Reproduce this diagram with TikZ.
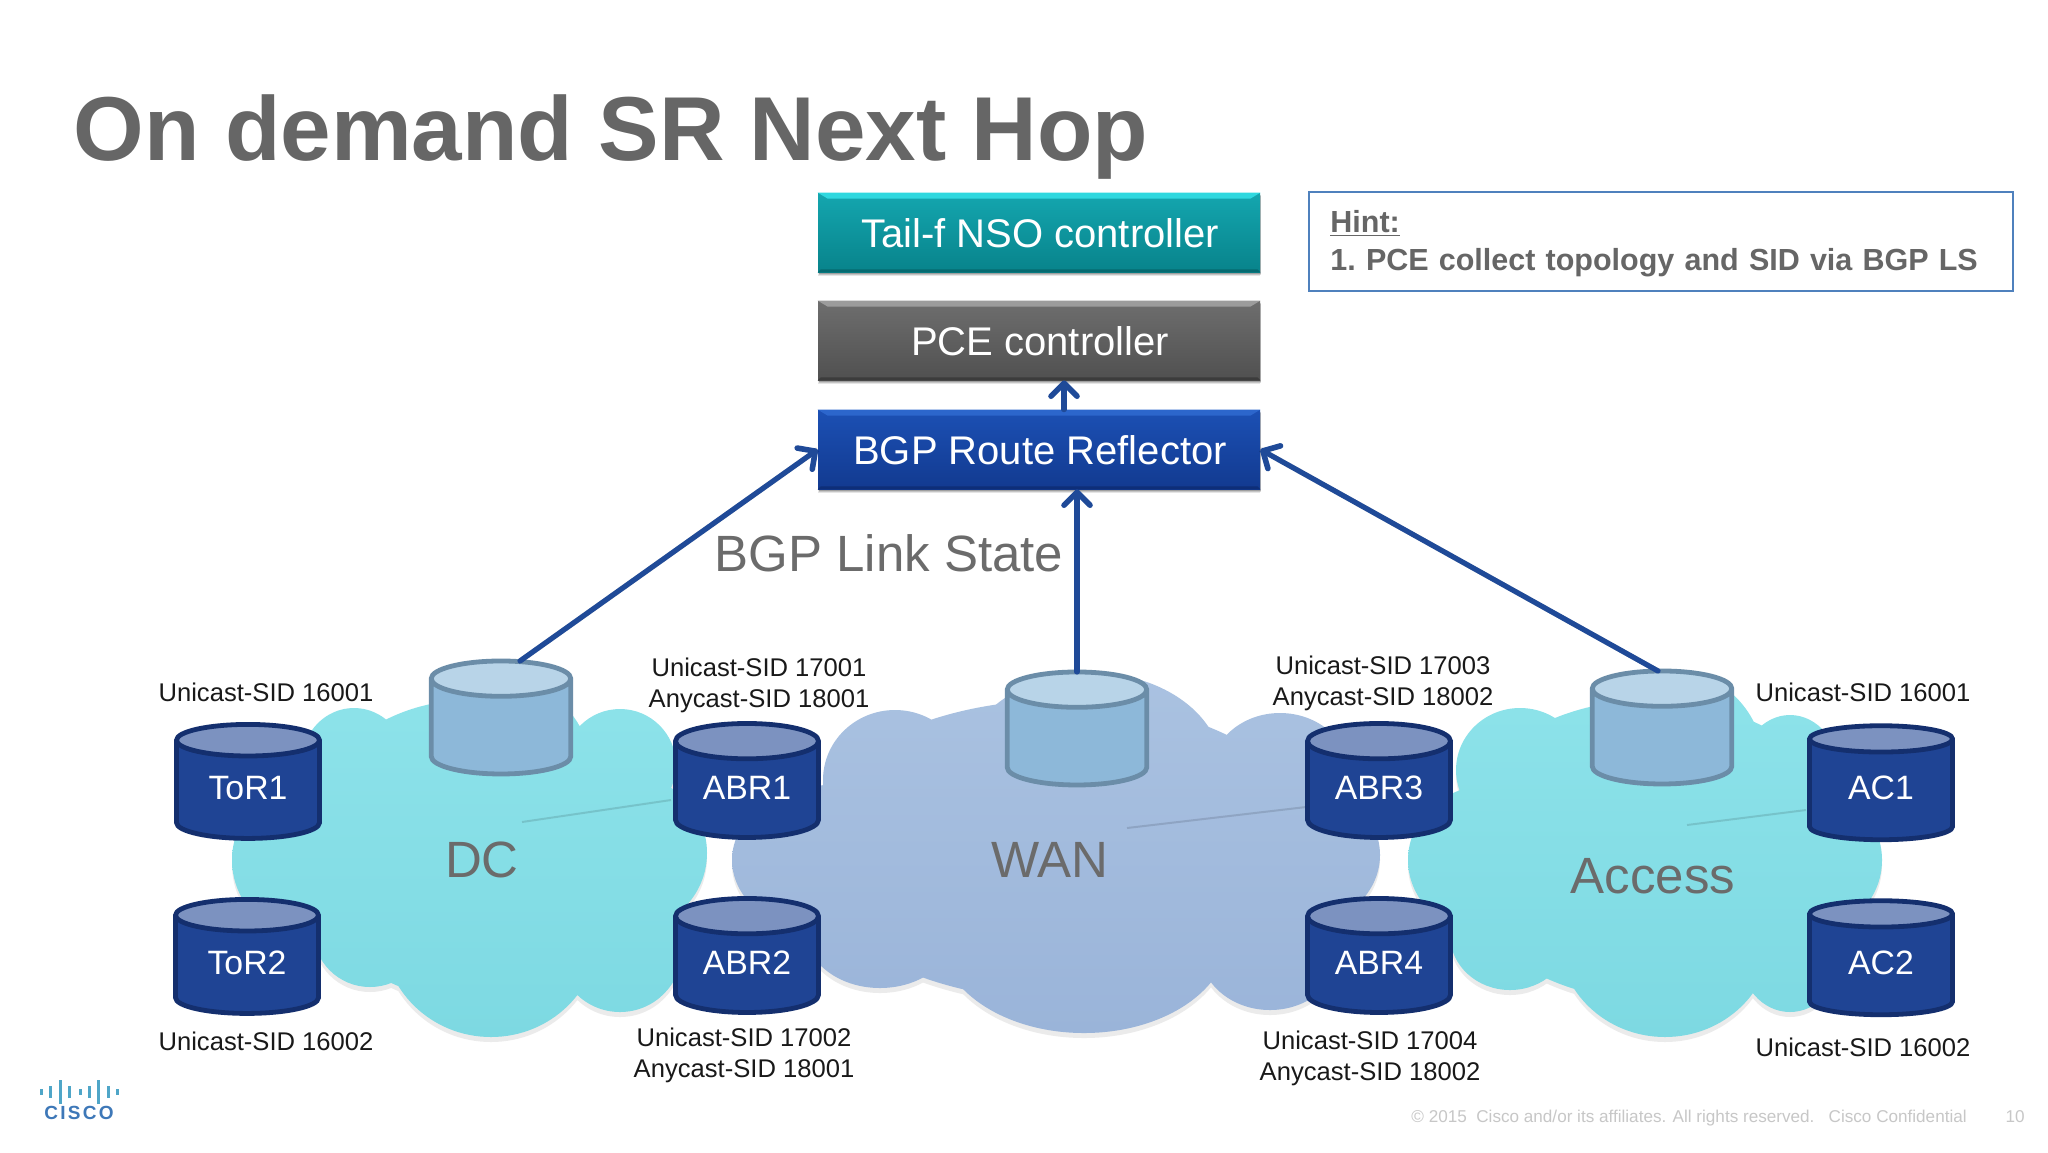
\documentclass[tikz,border=0pt]{standalone}
\usepackage{fontspec}
\setmainfont{Liberation Sans}
\usetikzlibrary{shapes.geometric,arrows.meta,shadows}
\definecolor{titlegray}{HTML}{666666}
\definecolor{labelgray}{HTML}{6B6B6B}
\definecolor{arrowblue}{HTML}{1F4A98}
\definecolor{cyldark}{HTML}{142F6E}
\definecolor{cylbody}{HTML}{1F4494}
\definecolor{cyltop}{HTML}{7C92C0}
\definecolor{lightedge}{HTML}{6B8DA8}
\definecolor{lightbody}{HTML}{8DB8D9}
\definecolor{lighttop}{HTML}{B8D4E8}
\definecolor{dcmain}{HTML}{7DD9E2}
\definecolor{dclight}{HTML}{8EE3EA}
\definecolor{wanmain}{HTML}{9AB4D9}
\definecolor{wanlight}{HTML}{AAC2E1}
\definecolor{hintblue}{HTML}{4F81BD}
\definecolor{nsotop}{HTML}{14A6AF}
\definecolor{nsobot}{HTML}{08838B}
\definecolor{nsohi}{HTML}{2FD8DF}
\definecolor{nsolo}{HTML}{066A70}
\definecolor{pcetop}{HTML}{6E6E6E}
\definecolor{pcebot}{HTML}{505050}
\definecolor{pcehi}{HTML}{9C9C9C}
\definecolor{pcelo}{HTML}{3C3C3C}
\definecolor{bgptop}{HTML}{1C50B4}
\definecolor{bgpbot}{HTML}{123A90}
\definecolor{bgphi}{HTML}{2C66CC}
\definecolor{bgplo}{HTML}{0E2E78}
\definecolor{logobar}{HTML}{4FA6C8}
\definecolor{logotext}{HTML}{3E78B8}
\newcommand{\cyltext}[1]{\raisebox{2.4pt}{#1}}
\tikzset{
  x=0.5pt,y=-0.5pt,
  softshadow/.style={
    drop shadow={shadow xshift=0pt,shadow yshift=-2pt,opacity=.10,fill=black},
    drop shadow={shadow xshift=.5pt,shadow yshift=-1.4pt,opacity=.14,fill=black},
    drop shadow={shadow xshift=.3pt,shadow yshift=-.8pt,opacity=.18,fill=black}},
  ctrl/.style={minimum width=221pt,minimum height=39.5pt,inner sep=0pt,softshadow},
  ctrltext/.style={inner sep=0pt,text=white,font=\fontsize{20}{23}\selectfont},
  dbcyl/.style={cylinder,shape border rotate=90,aspect=.4,minimum width=71.5pt,minimum height=57pt,
    inner sep=0pt,outer sep=0pt,line width=2.4pt,cylinder uses custom fill,draw=cyldark,
    cylinder body fill=cylbody,cylinder end fill=cyltop,text=white,font=\fontsize{16.9}{19}\selectfont},
  lightcyl/.style={cylinder,shape border rotate=90,aspect=.4,minimum width=69.8pt,minimum height=56.5pt,
    inner sep=0pt,outer sep=0pt,line width=2.4pt,cylinder uses custom fill,draw=lightedge,
    cylinder body fill=lightbody,cylinder end fill=lighttop,font=\fontsize{16.9}{19}\selectfont},
  sid/.style={align=center,inner sep=0pt,text=black!90,font=\fontsize{12.8}{15.6}\selectfont},
  cloudlabel/.style={inner sep=0pt,text=labelgray,font=\fontsize{25.5}{30}\selectfont},
  link/.style={draw=arrowblue,line width=2.6pt,line cap=round,
    -{Straight Barb[length=6.5pt,width=13pt,line width=2.8pt,round]}},
  linkshadow/.style={draw=black,opacity=.16,line width=2.6pt,xshift=1pt,yshift=-1.6pt},
  seam/.style={line width=1pt,opacity=.2},
  cloudshadow/.style={fill=black!35,opacity=.22},
  dccloud/.style={top color=dclight,middle color=dcmain,bottom color=dcmain},
  wancloud/.style={top color=wanlight,middle color=wanmain,bottom color=wanmain},
}
\newcommand{\dcshape}{(354,762) ellipse [x radius=52,y radius=54]
  (497,770) ellipse [x radius=94,y radius=92]
  (620,765) ellipse [x radius=56,y radius=56]
  (310,860) ellipse [x radius=78,y radius=78]
  (630,853) ellipse [x radius=77,y radius=77]
  (491,932) ellipse [x radius=108,y radius=105]
  (370,930) ellipse [x radius=57,y radius=57]
  (620,950) ellipse [x radius=62,y radius=62]
  (470,850) ellipse [x radius=170,y radius=150]}
\newcommand{\wanshape}{(895,780) ellipse [x radius=72,y radius=70]
  (1092,770) ellipse [x radius=130,y radius=97]
  (1280,775) ellipse [x radius=70,y radius=62]
  (830,860) ellipse [x radius=98,y radius=75]
  (1290,855) ellipse [x radius=90,y radius=75]
  (1084,935) ellipse [x radius=145,y radius=98]
  (880,930) ellipse [x radius=75,y radius=58]
  (1270,950) ellipse [x radius=70,y radius=60]
  (1060,850) ellipse [x radius=260,y radius=150]}
\newcommand{\accshape}{(1520,770) ellipse [x radius=64,y radius=62]
  (1670,765) ellipse [x radius=94,y radius=95]
  (1790,775) ellipse [x radius=50,y radius=60]
  (1490,860) ellipse [x radius=82,y radius=75]
  (1810,860) ellipse [x radius=72,y radius=72]
  (1665,935) ellipse [x radius=107,y radius=102]
  (1510,935) ellipse [x radius=60,y radius=55]
  (1790,955) ellipse [x radius=50,y radius=57]
  (1650,850) ellipse [x radius=200,y radius=150]}
\begin{document}
\begin{tikzpicture}
\useasboundingbox (0,0) rectangle (2048,1152);
\fill[white] (0,0) rectangle (2048,1152);

% clouds
\fill[cloudshadow,yshift=-2.5pt] \wanshape;
\fill[cloudshadow,yshift=-2.5pt] \dcshape;
\fill[cloudshadow,yshift=-2.5pt] \accshape;
\shade[wancloud] \wanshape;
\shade[dccloud] \dcshape;
\shade[dccloud] \accshape;
\draw[seam,draw=black!60!dcmain] (522,822) -- (671,800);
\draw[seam,draw=black!60!wanmain] (1127,828) -- (1306,807);
\draw[seam,draw=black!60!dcmain] (1687,825) -- (1806,810);

% title
\node[anchor=base west,inner sep=0pt,text=titlegray,font=\fontsize{45.4}{50}\selectfont\bfseries] (title) at (73.5,160) {On demand SR Next Hop};

% controllers
\node[ctrl,top color=nsotop,bottom color=nsobot] (nso) at (1039,232.5) {};
\node[ctrl,top color=pcetop,bottom color=pcebot] (pce) at (1039,340.5) {};
\node[ctrl,top color=bgptop,bottom color=bgpbot] (bgp) at (1039,449.5) {};
\foreach \b/\hi/\lo in {nso/nsohi/nsolo,pce/pcehi/pcelo,bgp/bgphi/bgplo}{
  \fill[\hi] (\b.north west) -- (\b.north east) -- ([xshift=-5pt,yshift=-3pt]\b.north east) -- ([xshift=5pt,yshift=-3pt]\b.north west) -- cycle;
  \fill[\lo] (\b.south west) -- (\b.south east) -- ([xshift=-1.5pt,yshift=1.5pt]\b.south east) -- ([xshift=1.5pt,yshift=1.5pt]\b.south west) -- cycle;
}
\node[ctrltext] (nsotext) at (1040,233.5) {Tail-f NSO controller};
\node[ctrltext] (pcetext) at (1040,341.5) {PCE controller};
\node[ctrltext] (bgptext) at (1040,450.5) {BGP Route Reflector};

% hint
\node[draw=hintblue,line width=1.1pt,minimum width=352pt,minimum height=49.5pt,inner sep=0pt] (hint) at (1661,241.5) {};
\node[anchor=west,text width=332pt,inner sep=0pt,align=left,text=titlegray,font=\fontsize{15.25}{19}\selectfont\bfseries\frenchspacing] (hinttext) at (1330,244)
  {\underline{Hint:}\\1. PCE collect topology and SID via BGP LS};

\node[cloudlabel] (bgpls) at (889,553) {BGP Link State};

% light cylinders
\node[lightcyl] (dc) at (501,727.5) {\phantom{ABR1}};
\node[lightcyl] (wan) at (1077,738.5) {\phantom{ABR1}};
\node[lightcyl] (acc) at (1662,737.5) {\phantom{ABR1}};

% routers
\node[dbcyl] (tor1) at (248,790.5) {\cyltext{ToR1}};
\node[dbcyl] (tor2) at (247,965.5) {\cyltext{ToR2}};
\node[dbcyl] (abr1) at (747,790.5) {\cyltext{ABR1}};
\node[dbcyl] (abr2) at (747,965.5) {\cyltext{ABR2}};
\node[dbcyl] (abr3) at (1379,790.5) {\cyltext{ABR3}};
\node[dbcyl] (abr4) at (1379,965.5) {\cyltext{ABR4}};
\node[dbcyl] (ac1) at (1881,790.5) {\cyltext{AC1}};
\node[dbcyl] (ac2) at (1881,965.5) {\cyltext{AC2}};

% cloud labels
\node[cloudlabel] (dclabel) at (482,860) {DC};
\node[cloudlabel] (wanlabel) at (1050,860) {WAN};
\node[cloudlabel] (acclabel) at (1653,876) {Access};

% SID labels
\node[sid] (s1) at (266,692) {Unicast-SID 16001};
\node[sid] (s2) at (266,1041) {Unicast-SID 16002};
\node[sid] (s3) at (759,685) {Unicast-SID 17001\\Anycast-SID 18001};
\node[sid] (s4) at (744,1055.5) {Unicast-SID 17002\\Anycast-SID 18001};
\node[sid] (s5) at (1383,683) {Unicast-SID 17003\\Anycast-SID 18002};
\node[sid] (s6) at (1370,1058.5) {Unicast-SID 17004\\Anycast-SID 18002};
\node[sid] (s7) at (1863,692) {Unicast-SID 16001};
\node[sid] (s8) at (1863,1047) {Unicast-SID 16002};

% connectors
\draw[linkshadow] ([xshift=9.5pt]dc.north) -- (bgp.west);
\draw[linkshadow] ([xshift=-2pt]acc.north) -- (bgp.east);
\draw[link] ([xshift=9.5pt]dc.north) -- (bgp.west);
\draw[link] (wan.north) -- (wan.north |- bgp.south);
\draw[link] ([xshift=-2pt]acc.north) -- (bgp.east);
\draw[link] ([xshift=12.5pt]bgp.north) -- ([xshift=12.5pt]pce.south);

% footer
\node[anchor=base west,inner sep=0pt,text=black!22,font=\fontsize{8.56}{10}\selectfont] (foot) at (1411,1122)
  {© 2015\ \ Cisco and/or its affiliates. All rights reserved.\ \ \ Cisco Confidential};
\node[anchor=base east,inner sep=0pt,text=black!22,font=\fontsize{8.56}{10}\selectfont] (pageno) at (2025,1122) {10};

% logo
\foreach \xx/\hh in {41/3,50/6,60/12,69/6,80/3,89/6,98/12,108/6,117/3}
  \draw[logobar,line width=1.5pt] (\xx,1092-\hh) -- (\xx,1092+\hh);
\node[inner sep=0pt,text=logotext,font=\fontsize{9.5}{11}\selectfont\bfseries\addfontfeatures{LetterSpace=12}] (logo) at (79,1113) {CISCO};
\end{tikzpicture}
\end{document}
